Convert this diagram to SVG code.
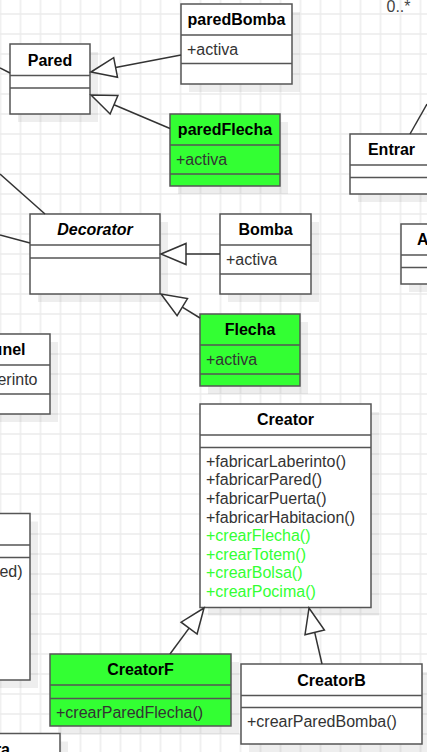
<svg xmlns="http://www.w3.org/2000/svg" width="427" height="752" viewBox="0 0 427 752">
<style>
.bg{fill:#ffffff}
.box{fill:#ffffff;stroke:#555555;stroke-width:1.5}
.green{fill:#33ff33}
.div{stroke:#555555;stroke-width:1.5}
.sh{fill:#000000;fill-opacity:0.065}
.t{font-family:"Liberation Sans",Arial,sans-serif;font-size:16px;font-weight:bold;fill:#000000;text-anchor:middle}
.a{font-family:"Liberation Sans",Arial,sans-serif;font-size:16px;fill:#333333}
.ag{fill:#33ff33}
.edge{stroke:#333333;stroke-width:1.5;fill:none}
.tri{fill:#ffffff;stroke:#333333;stroke-width:1.5;stroke-linejoin:miter}
</style>
<defs>
<pattern id="grid" width="20" height="20" patternUnits="userSpaceOnUse" x="10.5" y="4">
<path d="M0 10 H20 M10 0 V20" stroke="#ebebeb" stroke-width="1.5" fill="none"/>
</pattern>
</defs>
<rect class="bg" x="0" y="0" width="427" height="752"/>
<rect x="0" y="0" width="427" height="752" fill="url(#grid)"/>

<g id="Pared">
<rect class="sh" x="18" y="52" width="80" height="70"/>
<rect class="box" x="10" y="44" width="80" height="70"/>
<line class="div" x1="10" y1="75.5" x2="90" y2="75.5"/>
<line class="div" x1="10" y1="88" x2="90" y2="88"/>
<text class="t" x="50" y="65.5">Pared</text>
</g>

<g id="paredBomba">
<rect class="sh" x="189" y="12" width="111" height="80"/>
<rect class="box" x="181" y="4" width="111" height="80"/>
<line class="div" x1="181" y1="35" x2="292" y2="35"/>
<line class="div" x1="181" y1="63.5" x2="292" y2="63.5"/>
<text class="t" x="236.5" y="25.2">paredBomba</text>
<text class="a" x="187" y="55">+activa</text>
</g>

<g id="paredFlecha">
<rect class="sh" x="178" y="122" width="110" height="72"/>
<rect class="box green" x="170" y="114" width="110" height="72"/>
<line class="div" x1="170" y1="145" x2="280" y2="145"/>
<line class="div" x1="170" y1="174" x2="280" y2="174"/>
<text class="t" x="225" y="135.2">paredFlecha</text>
<text class="a" x="176" y="165">+activa</text>
</g>

<g id="Entrar">
<rect class="sh" x="358" y="142" width="83" height="60"/>
<rect class="box" x="350" y="134" width="83" height="60"/>
<line class="div" x1="350" y1="165" x2="433" y2="165"/>
<line class="div" x1="350" y1="177.5" x2="433" y2="177.5"/>
<text class="t" x="391.5" y="155.2">Entrar</text>
</g>

<g id="A">
<rect class="sh" x="409" y="232" width="60" height="60"/>
<rect class="box" x="401" y="224" width="60" height="60"/>
<line class="div" x1="401" y1="255" x2="461" y2="255"/>
<line class="div" x1="401" y1="267.5" x2="461" y2="267.5"/>
<text class="t" x="417" y="245.2" style="text-anchor:start">A</text>
</g>

<g id="Decorator">
<rect class="sh" x="38" y="222" width="130" height="80"/>
<rect class="box" x="30" y="214" width="130" height="80"/>
<line class="div" x1="30" y1="245" x2="160" y2="245"/>
<line class="div" x1="30" y1="258" x2="160" y2="258"/>
<text class="t" x="95" y="235.2" font-style="italic">Decorator</text>
</g>

<g id="Bomba">
<rect class="sh" x="228" y="222" width="91" height="80"/>
<rect class="box" x="220" y="214" width="91" height="80"/>
<line class="div" x1="220" y1="245" x2="311" y2="245"/>
<line class="div" x1="220" y1="274" x2="311" y2="274"/>
<text class="t" x="265.5" y="235.2">Bomba</text>
<text class="a" x="226" y="264.5">+activa</text>
</g>

<g id="Flecha">
<rect class="sh" x="208" y="322" width="100" height="72"/>
<rect class="box green" x="200" y="314" width="100" height="72"/>
<line class="div" x1="200" y1="345" x2="300" y2="345"/>
<line class="div" x1="200" y1="374" x2="300" y2="374"/>
<text class="t" x="250" y="335.2">Flecha</text>
<text class="a" x="206" y="364.5">+activa</text>
</g>

<g id="Tunel">
<rect class="sh" x="-32" y="342" width="90" height="80"/>
<rect class="box" x="-40" y="334" width="90" height="80"/>
<line class="div" x1="-40" y1="365" x2="50" y2="365"/>
<line class="div" x1="-40" y1="394" x2="50" y2="394"/>
<text class="t" x="25.5" y="355.2" style="text-anchor:end">unel</text>
<text class="a" x="37.5" y="384.5" text-anchor="end">erinto</text>
</g>

<g id="LeftBox">
<rect class="sh" x="-52" y="521.5" width="90" height="166.5"/>
<rect class="box" x="-60" y="513.5" width="90" height="166.5"/>
<line class="div" x1="-60" y1="545" x2="30" y2="545"/>
<line class="div" x1="-60" y1="557.5" x2="30" y2="557.5"/>
<text class="a" x="22.5" y="576.5" text-anchor="end">ed)</text>
</g>

<g id="Creator">
<rect class="sh" x="208" y="412" width="171" height="203.5"/>
<rect class="box" x="200" y="404" width="171" height="203.5"/>
<line class="div" x1="200" y1="435" x2="371" y2="435"/>
<line class="div" x1="200" y1="447.5" x2="371" y2="447.5"/>
<text class="t" x="285.5" y="425.2">Creator</text>
<text class="a" x="206" y="466.7">+fabricarLaberinto()</text>
<text class="a" x="206" y="485.3">+fabricarPared()</text>
<text class="a" x="206" y="503.9">+fabricarPuerta()</text>
<text class="a" x="206" y="522.5">+fabricarHabitacion()</text>
<text class="a ag" x="206" y="541.1">+crearFlecha()</text>
<text class="a ag" x="206" y="559.7">+crearTotem()</text>
<text class="a ag" x="206" y="578.3">+crearBolsa()</text>
<text class="a ag" x="206" y="596.9">+crearPocima()</text>
</g>

<g id="CreatorF">
<rect class="sh" x="58" y="662" width="181" height="72"/>
<rect class="box green" x="50" y="654" width="181" height="72"/>
<line class="div" x1="50" y1="685" x2="231" y2="685"/>
<line class="div" x1="50" y1="698.5" x2="231" y2="698.5"/>
<text class="t" x="140.5" y="675.2">CreatorF</text>
<text class="a" x="56" y="718">+crearParedFlecha()</text>
</g>

<g id="CreatorB">
<rect class="sh" x="249" y="672" width="181" height="80"/>
<rect class="box" x="241" y="664" width="181" height="80"/>
<line class="div" x1="241" y1="695.5" x2="422" y2="695.5"/>
<line class="div" x1="241" y1="707.5" x2="422" y2="707.5"/>
<text class="t" x="331.5" y="685.5">CreatorB</text>
<text class="a" x="247" y="727">+crearParedBomba()</text>
</g>

<g id="BottomBox">
<rect class="sh" x="-32" y="741.5" width="100" height="60"/>
<rect class="box" x="-40" y="733.5" width="100" height="60"/>
<text class="t" x="10" y="754.7" style="text-anchor:end">ra</text>
</g>

<g id="connectors">
<line class="edge" x1="0" y1="68" x2="10" y2="73"/>
<line class="edge" x1="0" y1="174" x2="45" y2="214"/>
<line class="edge" x1="0" y1="235" x2="30" y2="243"/>
<line class="edge" x1="410" y1="134" x2="427" y2="104"/>
<text x="386.5" y="12" font-family="Liberation Sans, Arial, sans-serif" font-size="16" fill="#444444">0..*</text>

<line class="edge" x1="115.6" y1="67.4" x2="181" y2="55"/>
<polygon class="tri" points="91,72 117.5,77.2 113.7,57.6"/>

<line class="edge" x1="114" y1="104.8" x2="170" y2="128.5"/>
<polygon class="tri" points="91,95 110.1,114 117.9,95.6"/>

<line class="edge" x1="186" y1="254" x2="220" y2="254"/>
<polygon class="tri" points="161,254 186,243.5 186,264.5"/>

<line class="edge" x1="182.3" y1="307.1" x2="200" y2="318"/>
<polygon class="tri" points="161,294 177.1,315.6 187.5,298.6"/>

<line class="edge" x1="189.1" y1="628.1" x2="170" y2="654"/>
<polygon class="tri" points="204,608 197.1,634 181.1,622.2"/>

<line class="edge" x1="314.7" y1="632.4" x2="322" y2="664"/>
<polygon class="tri" points="309,608 305,634.7 324.4,630.1"/>
</g>
</svg>
